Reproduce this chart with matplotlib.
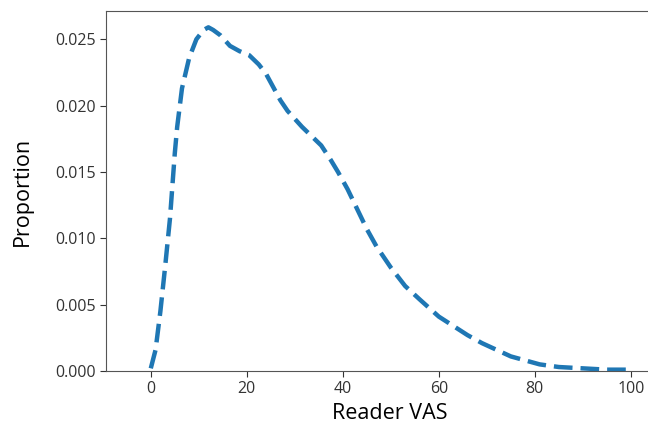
import numpy as np
import matplotlib
matplotlib.use("Agg")
from matplotlib import pyplot as plt

vas = [0, 1, 2, 3, 4, 5, 5.5, 6.5, 8, 9.5, 11, 12, 13, 14.5, 16.5,
       18.5, 20.5, 22.5, 24, 25.5, 27, 28.5, 30, 31.5, 33.5, 35.5, 37.5, 39,
       41, 43, 45, 47, 50, 53, 56, 60, 63, 66, 69, 72, 75, 78, 81, 85, 90,
       95, 100]
proportion = [0.0002, 0.0016, 0.0045, 0.0079, 0.0115, 0.0164,
              0.0184, 0.0213, 0.0236, 0.0250, 0.0257, 0.0259, 0.0257, 0.0253,
              0.0245, 0.0241, 0.0238, 0.0231, 0.0224, 0.0214, 0.0204, 0.0196,
              0.0190, 0.0184, 0.0177, 0.0170, 0.0159, 0.0150, 0.0137, 0.0122,
              0.0107, 0.0094, 0.0078, 0.0064, 0.0054, 0.0041, 0.0034, 0.0027,
              0.0021, 0.0016, 0.0011, 0.0008, 0.0005, 0.0003, 0.0002, 0.0001,
              0.0001]

xticks = [0, 20, 40, 60, 80, 100]
yticks = [0.000, 0.005, 0.010, 0.015, 0.020, 0.025]

fig = plt.figure(figsize=(6.48, 4.30), dpi=100)
ax = fig.add_axes([106 / 648, 1 - 371 / 430, (674 - 106) / 648, 360 / 430])

ax.plot(vas, proportion, color="#1f77b4", linestyle="--", linewidth=3.2,
        dashes=(4.2, 1.8))

ax.set_xlim(-9.33, 109.0)
ax.set_ylim(0, 0.02713)
ax.set_xticks(xticks)
ax.set_yticks(yticks)
ax.set_yticklabels(["%.3f" % v for v in yticks])

for s in ax.spines.values():
    s.set_color("#555555")
ax.tick_params(colors="#333333", length=4)
for lbl in ax.get_xticklabels() + ax.get_yticklabels():
    lbl.set_family(["Open Sans", "DejaVu Sans"])
    lbl.set_fontsize(11.5)

ax.set_xlabel("Reader VAS", fontsize=15.5, family=["Open Sans", "DejaVu Sans"],
              labelpad=4)
ax.set_ylabel("Proportion", fontsize=15.5, family=["Open Sans", "DejaVu Sans"],
              labelpad=16)

fig.savefig("out.png", dpi=100)
